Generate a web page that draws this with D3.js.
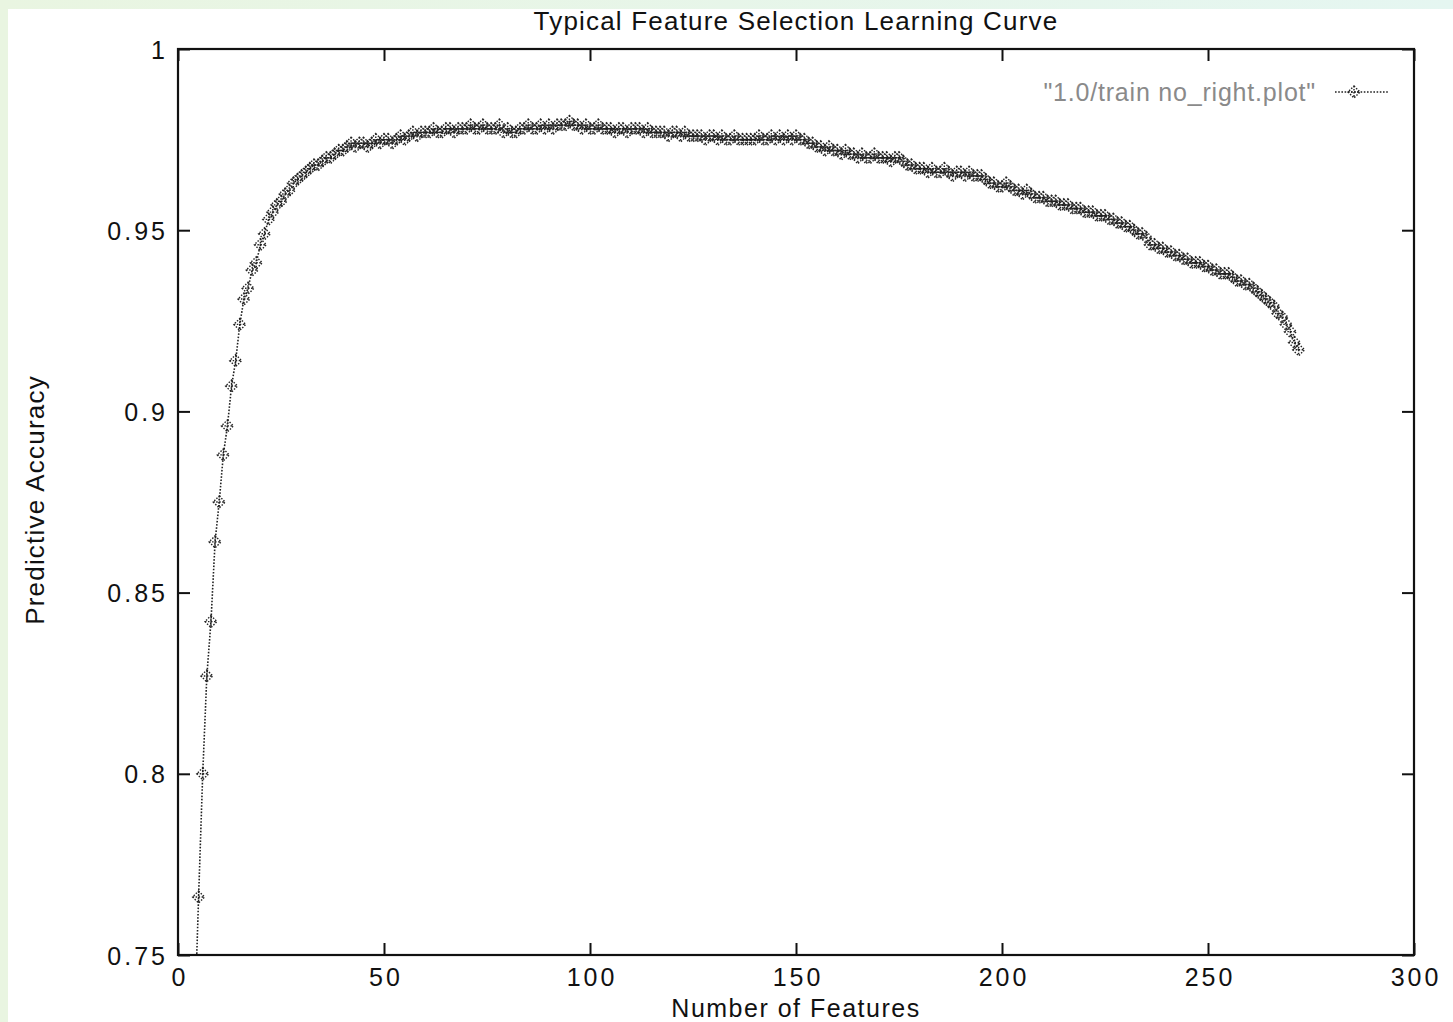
<!DOCTYPE html>
<meta charset='utf-8'>
<head>
    <title>Typical Feature Selection Learning Curve</title>
    <script src='https://cdn.jsdelivr.net/npm/d3@7/dist/d3.min.js'></script>
</head>

<style>
    body {
        margin: 0;
        background: linear-gradient(to right, #e9f5e1, #e5f6f1);
    }
    svg {
        display: block;
        font-family: 'Liberation Sans', Arial, sans-serif;
    }
    .tick text {
        font-size: 25px;
        letter-spacing: 3px;
        fill: #111;
    }
    .tick line {
        stroke: #111;
        stroke-width: 2px;
    }
    .label {
        font-size: 26px;
        letter-spacing: 1.2px;
        fill: #111;
    }
    .curve {
        fill: none;
        stroke: #222;
        stroke-width: 1.6px;
        stroke-dasharray: 1.6 1.6;
    }
    .marker {
        fill: none;
        stroke: #222;
        stroke-width: 1.4px;
        stroke-dasharray: 1.5 1.5;
    }
</style>

<svg></svg>

<script>

    // feature count of the first point, one point per feature after it
    var firstFeature = 4;
    var accuracy = [
        0.730, 0.766, 0.800, 0.827, 0.842, 0.864, 0.875, 0.888, 0.896, 0.907,
        0.914, 0.924, 0.931, 0.934, 0.939, 0.941, 0.946, 0.949, 0.953, 0.955,
        0.957, 0.958, 0.960, 0.961, 0.963, 0.964, 0.965, 0.966, 0.967, 0.968,
        0.968, 0.969, 0.970, 0.970, 0.971, 0.972, 0.972, 0.973, 0.974, 0.973,
        0.974, 0.974, 0.973, 0.974, 0.975, 0.974, 0.975, 0.975, 0.974, 0.975,
        0.976, 0.975, 0.976, 0.977, 0.976, 0.977, 0.977, 0.977, 0.978, 0.977,
        0.977, 0.978, 0.978, 0.977, 0.978, 0.978, 0.978, 0.979, 0.978, 0.978,
        0.979, 0.978, 0.978, 0.978, 0.979, 0.977, 0.978, 0.977, 0.977, 0.978,
        0.978, 0.979, 0.978, 0.978, 0.979, 0.978, 0.979, 0.978, 0.979, 0.979,
        0.979, 0.980, 0.979, 0.979, 0.978, 0.979, 0.978, 0.978, 0.979, 0.978,
        0.978, 0.978, 0.977, 0.978, 0.978, 0.977, 0.978, 0.978, 0.978, 0.977,
        0.978, 0.977, 0.977, 0.977, 0.977, 0.976, 0.977, 0.977, 0.976, 0.977,
        0.976, 0.976, 0.976, 0.976, 0.975, 0.976, 0.976, 0.975, 0.976, 0.975,
        0.975, 0.976, 0.975, 0.975, 0.975, 0.975, 0.975, 0.976, 0.975, 0.975,
        0.976, 0.975, 0.976, 0.975, 0.976, 0.975, 0.976, 0.975, 0.975, 0.974,
        0.974, 0.973, 0.973, 0.972, 0.973, 0.972, 0.972, 0.971, 0.972, 0.971,
        0.971, 0.970, 0.971, 0.970, 0.970, 0.971, 0.970, 0.970, 0.970, 0.969,
        0.970, 0.970, 0.969, 0.968, 0.968, 0.967, 0.967, 0.967, 0.966, 0.967,
        0.966, 0.966, 0.967, 0.966, 0.965, 0.966, 0.966, 0.965, 0.966, 0.965,
        0.965, 0.965, 0.964, 0.963, 0.963, 0.962, 0.962, 0.963, 0.962, 0.961,
        0.961, 0.960, 0.961, 0.960, 0.959, 0.959, 0.959, 0.958, 0.958, 0.958,
        0.957, 0.957, 0.957, 0.956, 0.956, 0.956, 0.955, 0.955, 0.955, 0.954,
        0.954, 0.954, 0.953, 0.953, 0.952, 0.952, 0.951, 0.951, 0.950, 0.949,
        0.949, 0.948, 0.946, 0.946, 0.945, 0.945, 0.944, 0.944, 0.943, 0.943,
        0.942, 0.942, 0.941, 0.941, 0.941, 0.940, 0.940, 0.939, 0.939, 0.938,
        0.938, 0.938, 0.937, 0.936, 0.936, 0.935, 0.935, 0.934, 0.933, 0.932,
        0.931, 0.930, 0.929, 0.927, 0.926, 0.924, 0.922, 0.919, 0.917
    ];
    var xTicks = [0, 50, 100, 150, 200, 250, 300];
    var yTicks = [0.75, 0.8, 0.85, 0.9, 0.95, 1];
    var yTickLabels = ['0.75', '0.8', '0.85', '0.9', '0.95', '1'];
    var legendLabel = '"1.0/train no_right.plot"';

    var vWidth = 1453;
    var vHeight = 1022;
    var plot = {left: 178, top: 49, right: 1414, bottom: 955};
    var tickLen = 12;

    var svg = d3.select('svg').attr('width', vWidth).attr('height', vHeight);

    // white sheet, leaving the tinted border top and left
    svg.append('rect').attr('x', 8).attr('y', 9)
        .attr('width', vWidth - 8).attr('height', vHeight - 9).attr('fill', '#fff');

    var x = d3.scaleLinear().domain([0, 300]).range([plot.left, plot.right]);
    var y = d3.scaleLinear().domain([0.75, 1]).range([plot.bottom, plot.top]);

    var points = accuracy.map(function (a, i) { return {f: firstFeature + i, a: a}; });

    // axes, gnuplot style: ticks point inward on all four sides
    var gx = svg.append('g').attr('transform', 'translate(0,' + plot.bottom + ')')
        .call(d3.axisBottom(x).tickValues(xTicks).tickSize(-tickLen).tickPadding(12));
    var gy = svg.append('g').attr('transform', 'translate(' + plot.left + ',0)')
        .call(d3.axisLeft(y).tickValues(yTicks).tickSize(-tickLen).tickPadding(10)
            .tickFormat(function (d, i) { return yTickLabels[i]; }));
    var gt = svg.append('g').attr('transform', 'translate(0,' + plot.top + ')')
        .call(d3.axisTop(x).tickValues(xTicks).tickSize(-tickLen).tickFormat(''));
    var gr = svg.append('g').attr('transform', 'translate(' + plot.right + ',0)')
        .call(d3.axisRight(y).tickValues(yTicks).tickSize(-tickLen).tickFormat(''));
    [gx, gy, gt, gr].forEach(function (g) { g.select('.domain').remove(); });
    gx.selectAll('.tick text').attr('dy', '0.75em').attr('dx', 1.5);
    gy.selectAll('.tick text').attr('dy', '0.36em');

    svg.append('rect')
        .attr('x', plot.left).attr('y', plot.top)
        .attr('width', plot.right - plot.left).attr('height', plot.bottom - plot.top)
        .attr('fill', 'none').attr('stroke', '#111').attr('stroke-width', 2.2);

    // data
    svg.append('clipPath').attr('id', 'clip').append('rect')
        .attr('x', plot.left).attr('y', plot.top)
        .attr('width', plot.right - plot.left).attr('height', plot.bottom - plot.top);

    var g = svg.append('g').attr('clip-path', 'url(#clip)');

    var line = d3.line()
        .x(function (d) { return x(d.f); })
        .y(function (d) { return y(d.a); });

    g.append('path').datum(points).attr('class', 'curve').attr('d', line);

    var r = 6;
    var markerPath = 'M0,' + (-r) + 'L' + r + ',0L0,' + r + 'L' + (-r) + ',0Z' +
        'M0,' + (-r) + 'V' + r + 'M' + (-r) + ',0H' + r;

    g.selectAll('.marker').data(points).enter().append('path')
        .attr('class', 'marker')
        .attr('d', markerPath)
        .attr('transform', function (d) { return 'translate(' + x(d.f) + ',' + y(d.a) + ')'; });

    // legend
    var legendY = 92;
    svg.append('text').attr('class', 'label').attr('x', 1316).attr('y', legendY).attr('dy', '0.35em')
        .attr('text-anchor', 'end').style('font-size', '25px').style('letter-spacing', '0.8px')
        .style('fill', '#8a8a8a')
        .text(legendLabel);
    svg.append('line').attr('class', 'curve')
        .attr('x1', 1335).attr('x2', 1388).attr('y1', legendY).attr('y2', legendY);
    svg.append('path').attr('class', 'marker').attr('d', markerPath)
        .attr('transform', 'translate(1354,' + legendY + ')');

    // titles
    svg.append('text').attr('class', 'label').attr('x', (plot.left + plot.right) / 2).attr('y', 30)
        .attr('text-anchor', 'middle')
        .text('Typical Feature Selection Learning Curve');
    svg.append('text').attr('class', 'label').attr('x', (plot.left + plot.right) / 2).attr('y', 1017)
        .attr('text-anchor', 'middle').style('font-size', '25px').style('letter-spacing', '1.5px')
        .text('Number of Features');
    svg.append('text').attr('class', 'label')
        .attr('transform', 'translate(44,' + ((plot.top + plot.bottom) / 2 - 2) + ') rotate(-90)')
        .attr('text-anchor', 'middle')
        .text('Predictive Accuracy');
</script>
